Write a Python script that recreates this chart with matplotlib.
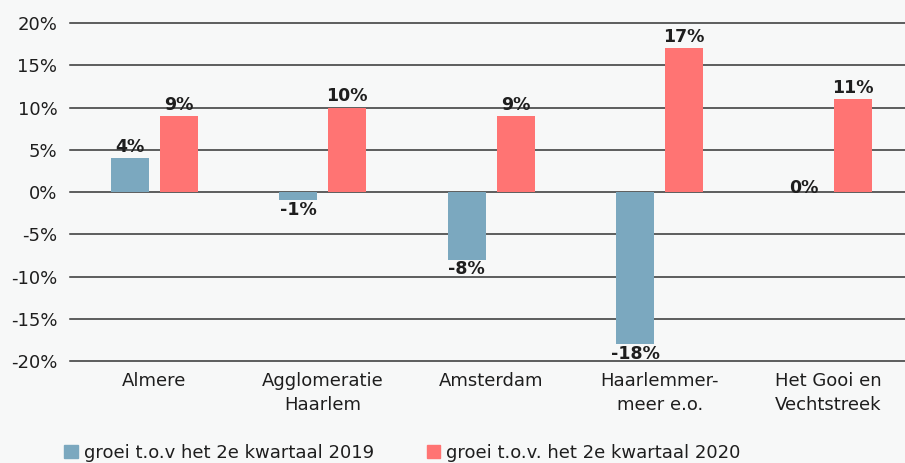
import numpy as np
import matplotlib.pyplot as plt
from matplotlib.patches import Patch

categories = ["Almere", "Agglomeratie\nHaarlem", "Amsterdam", "Haarlemmer-\nmeer e.o.", "Het Gooi en\nVechtstreek"]
groei_2019 = [4, -1, -8, -18, 0]
groei_2020 = [9, 10, 9, 17, 11]
series_names = ["groei t.o.v het 2e kwartaal 2019", "groei t.o.v. het 2e kwartaal 2020"]
yticks = [-20, -15, -10, -5, 0, 5, 10, 15, 20]

BLUE = "#7ba8bf"
RED = "#ff7473"
BG = "#f7f8f8"
TXT = "#1e1e1e"

plt.rcParams["font.family"] = ["DejaVu Sans"]

fig = plt.figure(figsize=(9.05, 4.63), dpi=100, facecolor=BG)
# axes runs a little past the right edge of the figure, as in the original
ax = fig.add_axes([0.0773, 0.2203, 0.931, 0.73])
ax.set_facecolor(BG)

x = np.arange(len(categories))
w = 0.226
off = 0.145
b1 = ax.bar(x - off, groei_2019, w, color=BLUE, zorder=3)
b2 = ax.bar(x + off, groei_2020, w, color=RED, zorder=3)

# value labels
for bars, vals in [(b1, groei_2019), (b2, groei_2020)]:
    for rect, v in zip(bars, vals):
        cx = rect.get_x() + rect.get_width() / 2
        if v > 0:
            ax.annotate(f"{v}%", (cx, v), xytext=(0, 1.5), textcoords="offset points",
                        ha="center", va="bottom", fontsize=12.5, fontweight="semibold", color=TXT)
        elif v < 0:
            ax.annotate(f"{v}%", (cx, v), xytext=(0, -0.5), textcoords="offset points",
                        ha="center", va="top", fontsize=12.5, fontweight="semibold", color=TXT)
        else:
            ax.annotate(f"{v}%", (cx, v), xytext=(0, 3), textcoords="offset points",
                        ha="center", va="center", fontsize=12.5, fontweight="semibold", color=TXT)

ax.set_ylim(-20, 20)
ax.set_xlim(-0.5, len(categories) - 0.5)
ax.set_yticks(yticks)
ax.set_yticklabels([f"{t}%" for t in yticks], fontsize=13, color=TXT)
ax.set_xticks(x)
ax.set_xticklabels(categories, fontsize=13, color=TXT, linespacing=1.4)
ax.tick_params(length=0, axis="y", pad=9)
ax.tick_params(length=0, axis="x", pad=8)
for t in yticks:
    ax.axhline(t, color="#333333", lw=1.1, zorder=2, clip_on=False)
for s in ax.spines.values():
    s.set_visible(False)

handles = [Patch(color=BLUE), Patch(color=RED)]
fig.legend(handles, series_names, loc="lower left", bbox_to_anchor=(0.061, -0.017),
           ncol=2, frameon=False, fontsize=13, handlelength=0.75, handleheight=0.75,
           handletextpad=0.35, columnspacing=2.9, borderpad=0, labelcolor=TXT)

fig.savefig("out.png", dpi=100, facecolor=BG)
